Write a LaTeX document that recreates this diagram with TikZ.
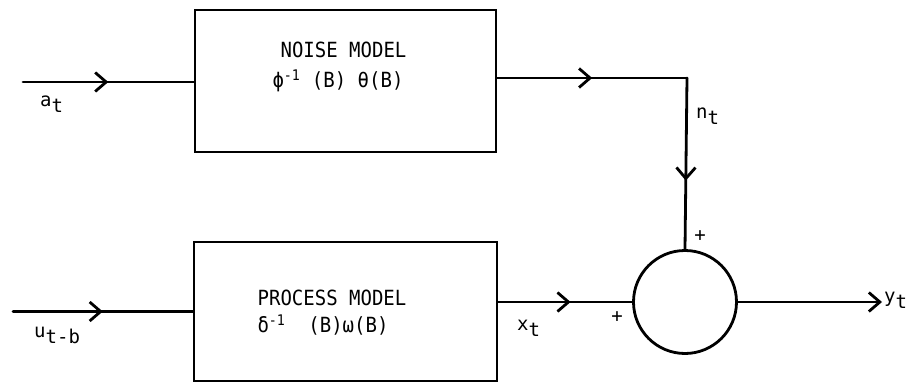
\documentclass[tikz,border=0pt]{standalone}
\usepackage{fontspec}
\newfontfamily\tw{DejaVu Sans Mono}
\usetikzlibrary{arrows.meta,decorations.markings}
\tikzset{
  barb/.tip={Straight Barb[length=11pt,width=19pt,line width=2.8pt]},
  wire/.style={line width=2.8pt, line cap=round},
  midarrow/.style={postaction={decorate},
    decoration={markings, mark=at position #1 with {\arrow{barb}}}},
  block/.style={draw, line width=2.8pt, rectangle, inner sep=0pt},
  blocktext/.style={font=\tw\fontsize{19}{22}\selectfont, inner sep=0pt},
  sumjunc/.style={draw, line width=2.8pt, circle, minimum size=103pt, inner sep=0pt},
  sig/.style={font=\tw\fontsize{19}{22}\selectfont, inner sep=0pt},
  sgn/.style={font=\tw\fontsize{19}{21}\selectfont, inner sep=0pt}
}
\newcommand{\sub}[1]{\raisebox{-6pt}{#1}}
\newcommand{\tall}[1]{\scalebox{1}[1.1]{#1}}
\begin{document}
\begin{tikzpicture}[x=1pt,y=-1pt]
  \useasboundingbox (0,0) rectangle (910,385);
  % blocks
  \node[block, minimum width=301pt, minimum height=142pt] (noise) at (345.5,81) {};
  \node[block, minimum width=303pt, minimum height=139pt] (proc) at (345.5,311.5) {};
  \node[blocktext] (noiseA) at (343.5,50) {\tall{NOISE MODEL}};
  \node[blocktext] (noiseB) at (338,81) {\tall{ϕ\textsuperscript{-1} (B) θ(B)}};
  \node[blocktext] (procA) at (332,298) {\tall{PROCESS MODEL}};
  \node[blocktext] (procB) at (323,325) {\tall{δ\textsuperscript{-1}\ \ (B)ω(B)}};
  \node[sumjunc] (sum) at (685,302) {};
  % free ends and corner
  \coordinate (ain) at (23,82);
  \coordinate (uin) at (13,311.5);
  \coordinate (corner) at (687,78);
  \coordinate (yout) at (882,302);
  % connectors
  \draw[wire, midarrow=0.5] (ain) -- (noise.west |- ain);
  \draw[wire, midarrow=0.5] (uin) -- (proc.west |- uin);
  \draw[wire, midarrow=0.5] (noise.east |- corner) -- (corner);
  \draw[wire, midarrow=0.6] (corner) -- (sum.north);
  \draw[wire, midarrow=0.54] (proc.east |- sum.west) -- (sum.west);
  \draw[wire, -{barb}] (sum.east) -- (yout);
  % signal labels
  \node[sig, anchor=west] (la) at (40,104) {a\sub{t}};
  \node[sig, anchor=west] (lu) at (34,335) {u\sub{t-b}};
  \node[sig, anchor=west] (ln) at (696,116) {n\sub{t}};
  \node[sig, anchor=west] (lx) at (517,328) {x\sub{t}};
  \node[sig, anchor=west] (ly) at (884,300) {y\sub{t}};
  % signs at the summing junction
  \node[sgn] (pn) at (700,236) {+};
  \node[sgn] (px) at (617,317) {+};
\end{tikzpicture}
\end{document}
